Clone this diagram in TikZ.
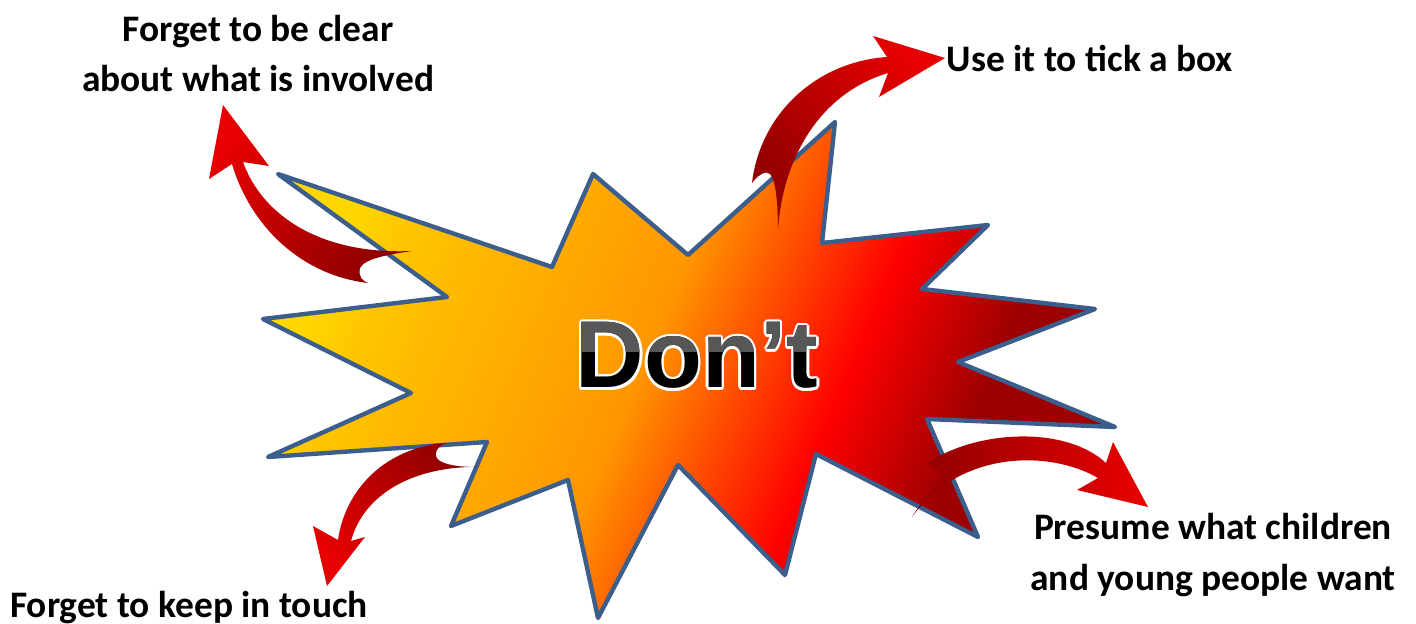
\documentclass[tikz,border=0pt]{standalone}
\usepackage{fontspec}
\setmainfont{Carlito}
\newfontfamily\dontfont{Liberation Sans}
\usepackage{xcolor}
\usepackage{tikz}

\definecolor{burstline}{HTML}{3B5E8C}
\definecolor{burstyellow}{HTML}{FFD700}
\definecolor{burstgold}{HTML}{FFC400}
\definecolor{burstorange}{HTML}{FF9600}
\definecolor{burstred}{HTML}{FF0000}
\definecolor{burstdark}{HTML}{9C0000}
\definecolor{arrowhi}{HTML}{E80000}
\definecolor{arrowlo}{HTML}{900000}
\definecolor{dontgray}{HTML}{575757}

\pgfdeclarehorizontalshading{burstfill}{100bp}{color(0bp)=(burstyellow); color(25bp)=(burstyellow); color(29bp)=(burstgold); color(47bp)=(burstorange); color(60bp)=(burstred); color(69bp)=(burstdark); color(100bp)=(burstdark)}

\begin{document}
\begin{tikzpicture}[
    x=0.02cm, y=-0.02cm,
    burst/.style = {draw=burstline, line width=2.5pt, line join=round, shading=burstfill, shading angle=-23},
    curvy/.style = {bottom color=arrowlo, top color=arrowhi},
    lbl/.style   = {font=\bfseries\fontsize{21.3}{28.5}\selectfont, align=center, inner sep=0pt, anchor=base},
    dont/.style  = {font=\dontfont\bfseries\fontsize{54}{54}\selectfont, inner sep=0pt, anchor=base}
]
\useasboundingbox (0,0) rectangle (1416,624);

% ---- Burst ----
\shadedraw[burst] (278,174) -- (552,267) -- (593,174) -- (688,255) -- (835,122) -- (822,243)
    -- (988,225) -- (922,289) -- (1095,309) -- (958,362) -- (1115,427) -- (927,419)
    -- (978,537) -- (816,454) -- (785,575) -- (678,465) -- (598,618) -- (568,480)
    -- (451,526) -- (487,442) -- (268,457) -- (411,393) -- (263,319) -- (447,297) -- cycle;

% ---- Curved arrows ----
\shade[curvy, shading angle=46] (223,105) -- (269,166) -- (243,162)
    .. controls (262,215) and (320,255) .. (412,251)
    .. controls (392,254) and (365,258) .. (360,268)
    .. controls (358,276) and (362,281) .. (368,283)
    .. controls (300,275) and (250,225) .. (232,164) -- (209,179) -- cycle;
\shade[curvy, shading angle=-51] (778,230)
    .. controls (782,165) and (815,95) .. (888,73) -- (879,97) -- (945,58) -- (873,36) -- (887,57)
    .. controls (815,62) and (760,115) .. (752,183)
    .. controls (758,175) and (766,170) .. (770,174)
    .. controls (776,180) and (778,205) .. (778,230) -- cycle;
\shade[curvy, shading angle=135] (327,586) -- (313,526) -- (338,540)
    .. controls (345,490) and (385,447) .. (447,443)
    .. controls (436,446) and (432,456) .. (440,461)
    .. controls (450,467) and (470,467) .. (483,467)
    .. controls (420,465) and (365,490) .. (351,541) -- (365,537) -- cycle;
\shade[curvy, shading angle=-94] (1148,507) -- (1077,490) -- (1098,478)
    .. controls (1050,450) and (960,450) .. (912,517)
    .. controls (925,495) and (945,482) .. (940,472)
    .. controls (937,466) and (932,464) .. (926,464)
    .. controls (975,430) and (1065,425) .. (1106,463) -- (1113,442) -- cycle;

% ---- Centre word ----
\foreach \a in {0,30,...,330}
    \node[dont, text=white] at ([shift={(\a:2.5)}]697,388) {Don’t};
\node[dont, text=black] (dont) at (697,388) {Don’t};
\begin{scope}
    \clip (560,300) rectangle (840,352);
    \node[dont, text=dontgray] at (697,388) {Don’t};
\end{scope}

% ---- Labels ----
\node[lbl] (clear) at (258,92)   {Forget to be clear\\about what is involved};
\node[lbl] (tick)  at (1090,72)  {Use it to tick a box};
\node[lbl] (touch) at (189,617)  {Forget to keep in touch};
\node[lbl] (want)  at (1213,590) {Presume what children\\and young people want};

\end{tikzpicture}
\end{document}
